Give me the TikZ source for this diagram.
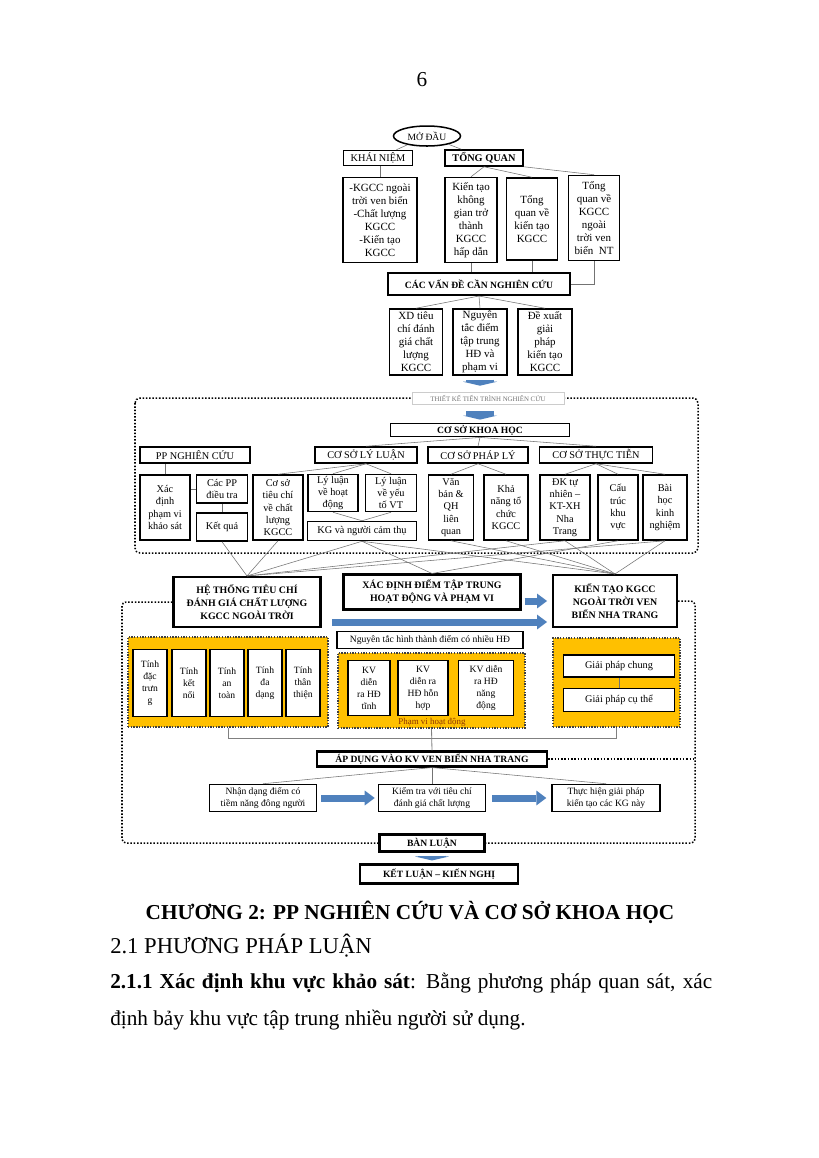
\documentclass[tikz,border=0pt]{standalone}
\usepackage{fontspec}
\setmainfont{Liberation Serif}
\usetikzlibrary{arrows.meta,shapes.geometric}
\newlength{\upx}
\setlength{\upx}{0.025641cm}
\definecolor{arrblue}{RGB}{79,129,189}
\definecolor{gold}{RGB}{255,192,0}
\definecolor{pvred}{RGB}{140,50,0}
\tikzset{
  sz/.style 2 args={minimum width=#1\upx, minimum height=#2\upx},
  box/.style={draw, line width=1.1pt, fill=white, align=center, inner sep=0pt,
    font=\fontsize{8}{9.5}\selectfont},
  sbox/.style={box, font=\fontsize{7.5}{9}\selectfont},
  tbox/.style={box, font=\fontsize{7}{8.8}\selectfont},
  bhdr/.style={box, line width=1.5pt, font=\bfseries\fontsize{7}{9.5}\selectfont},
  grp/.style={fill=gold, draw=black!75, line width=1pt, dash pattern=on 1pt off 1pt, inner sep=0pt},
  ln/.style={draw=black!55, line width=0.4pt},
  frame/.style={draw=black, line width=1.1pt, dash pattern=on 1.1pt off 1.3pt},
  barrow/.style={draw=arrblue, line width=5.1pt, -{Triangle[length=7.3pt, width=10.9pt, line width=0pt]}},
  darrow/.style={draw=arrblue, line width=20.4pt, -{Triangle[length=2.9pt, width=24.8pt, line width=0pt]}},
  body/.style={font=\fontsize{15.5}{18}\selectfont, inner sep=0pt}
}
\begin{document}
\begin{tikzpicture}[x=\upx, y=-\upx]
\useasboundingbox (0,0) rectangle (819,1158);
\fill[white] (0,0) rectangle (819,1158);
\node[body] (trang) at (422,80) {6};

% 开头
\node[draw, ellipse, line width=1.1pt, sz={67}{20}, inner sep=0pt, font=\fontsize{7}{8}\selectfont] (modau) at (427,136) {MỞ ĐẦU};
\node[sbox, sz={69}{15}] (khainiem) at (378,158) {KHÁI NIỆM};
\node[box, sz={78}{16}, font=\bfseries\fontsize{7.5}{9}\selectfont] (tongquan) at (484,158) {TỔNG QUAN};
\node[box, sz={74}{85}] (kn1) at (380,220) {-KGCC ngoài\\trời ven biển\\-Chất lượng\\KGCC\\-Kiến tạo\\KGCC};
\node[box, sz={52}{85}] (tq1) at (471,220) {Kiến tạo\\không\\gian trở\\thành\\KGCC\\hấp dẫn};
\node[box, sz={51}{82}] (tq2) at (532,219) {Tổng\\quan về\\kiến tạo\\KGCC};
\node[box, sz={51}{85}] (tq3) at (594,218) {Tổng\\quan về\\KGCC\\ngoài\\trời ven\\biển~~NT};
\draw[ln] (modau) -- (khainiem);
\draw[ln] (modau) -- (tongquan);
\draw[ln] (kn1.north) -- (kn1.north |- khainiem.south);
\draw[ln] (tongquan.south) -- (tq1.north);
\draw[ln] (tongquan.south) -- (tq2.north);
\draw[ln] (tongquan.south east) -- (tq3.north);

% 研究问题
\node[bhdr, sz={182}{22}] (cvd) at (479,284) {CÁC VẤN ĐỀ CẦN NGHIÊN CỨU};
\draw[ln] (tq1.south) -- (tq1.south |- cvd.north);
\draw[ln] (tq2.south) -- (tq2.south |- cvd.north);
\draw[ln] (tq3.south) |- (cvd.east);
\node[box, sz={53}{66}] (b1) at (416,342) {XD tiêu\\chí đánh\\giá chất\\lượng\\KGCC};
\node[box, sz={54}{66}] (b2) at (480,342) {Nguyên\\tắc điểm\\tập trung\\HĐ và\\phạm vi};
\node[box, sz={54}{66}] (b3) at (545,342) {Đề xuất\\giải\\pháp\\kiến tạo\\KGCC};
\draw[ln] (cvd.south) -- (b1.north);
\draw[ln] (cvd.south) -- (b2.north);
\draw[ln] (cvd.south) -- (b3.north);

% 研究流程
\draw[frame, rounded corners=5\upx] (135,398) rectangle (698,553);
\node[draw=black!20, fill=white, text=black!55, sz={152}{12}, inner sep=0pt, font=\fontsize{5}{6}\selectfont] (tk) at (488,398) {THIẾT KẾ TIẾN TRÌNH NGHIÊN CỨU};
\node[bhdr, sz={179}{13}, line width=1.3pt] (cskh) at (480,430) {CƠ SỞ KHOA HỌC};
\draw[darrow, shorten <=2.9pt, shorten >=4.4pt] (b2.south) -- (b2.south |- tk.north);
\draw[darrow, shorten <=5.1pt, shorten >=2.2pt] (cskh.north |- tk.south) -- (cskh.north);

\node[sbox, sz={110}{16}] (ppnc) at (195,455) {PP NGHIÊN CỨU};
\node[sbox, sz={102}{16}] (csll) at (366,455) {CƠ SỞ LÝ LUẬN};
\node[sbox, sz={100}{16}] (cspl) at (478,455) {CƠ SỞ PHÁP LÝ};
\node[sbox, sz={113}{16}] (cstt) at (596,455) {CƠ SỞ THỰC TIỄN};
\draw[ln] (cskh.south) -- (csll.north);
\draw[ln] (cskh.south) -- (cspl.north);
\draw[ln] (cskh.south) -- (cstt.north);

\node[sbox, sz={50}{65}] (xdpv) at (165,507.5) {Xác\\định\\phạm vi\\khảo sát};
\node[sbox, sz={51}{28}] (cacpp) at (222,489) {Các PP\\điều tra};
\node[sbox, sz={51}{28}] (ketqua) at (222,527) {Kết quả};
\node[sbox, sz={50}{65}] (cstc) at (278,507.5) {Cơ sở\\tiêu chí\\về chất\\lượng\\KGCC};
\node[sbox, sz={50}{37}] (llhd) at (333,493) {Lý luận\\về hoạt\\động};
\node[sbox, sz={51}{37}] (llvt) at (391,493) {Lý luận\\về yếu\\tố VT};
\node[sbox, sz={109}{19}] (kg) at (362,531) {KG và người cảm thụ};
\node[sbox, sz={45}{65}] (vb) at (451,507.5) {Văn\\bản \&\\QH\\liên\\quan};
\node[sbox, sz={44}{65}] (knang) at (506,507.5) {Khả\\năng tổ\\chức\\KGCC};
\node[sbox, sz={50}{65}] (dk) at (565,507.5) {ĐK tự\\nhiên –\\KT-XH\\Nha\\Trang};
\node[sbox, sz={40}{65}] (ctkv) at (618,507.5) {Cấu\\trúc\\khu\\vực};
\node[sbox, sz={44}{65}] (bh) at (665,507.5) {Bài\\học\\kinh\\nghiệm};
\draw[ln] (xdpv.north) -- (xdpv.north |- ppnc.south);
\draw[ln] (cacpp.west) -- (cacpp.west -| xdpv.east);
\draw[ln] (cacpp.south) -- (ketqua.north);
\draw[ln] (csll.south) -- (cstc.north);
\draw[ln] (csll.south) -- (llhd.north);
\draw[ln] (csll.south) -- (llvt.north);
\draw[ln] (llhd.south) -- (kg.north);
\draw[ln] (llvt.south) -- (kg.north);
\draw[ln] (cspl.south) -- (vb.north);
\draw[ln] (cspl.south) -- (knang.north);
\draw[ln] (cstt.south) -- (dk.north);
\draw[ln] (cstt.south) -- (ctkv.north);
\draw[ln] (cstt.south) -- (bh.north);

% 三个主要部分
\node[bhdr, sz={147}{50}, font=\bfseries\fontsize{7.2}{9.5}\selectfont] (hethong) at (247,602) {HỆ THỐNG TIÊU CHÍ\\ĐÁNH GIÁ CHẤT LƯỢNG\\KGCC NGOÀI TRỜI};
\node[bhdr, sz={177}{35}, font=\bfseries\fontsize{7.2}{9.5}\selectfont] (xddtt) at (432,592) {XÁC ĐỊNH ĐIỂM TẬP TRUNG\\HOẠT ĐỘNG VÀ PHẠM VI};
\node[bhdr, sz={124}{52}, font=\bfseries\fontsize{7.2}{9.5}\selectfont] (kientao) at (615,601) {KIẾN TẠO KGCC\\NGOÀI TRỜI VEN\\BIỂN NHA TRANG};
\draw[ln] (ketqua.south) -- (hethong.north);
\draw[ln] (cstc.south) -- (hethong.north);
\draw[ln] (kg.south) -- (hethong.north);
\draw[ln] (dk.south) -- (hethong.north);
\draw[ln] (bh.south) -- (hethong.north);
\draw[ln] (kg.south) -- (xddtt.north);
\draw[ln] (ctkv.south) -- (xddtt.north);
\draw[ln] (kg.south) -- (kientao.north);
\draw[ln] (vb.south) -- (kientao.north);
\draw[ln] (knang.south) -- (kientao.north);
\draw[ln] (dk.south) -- (kientao.north);
\draw[ln] (bh.south) -- (kientao.north);
\draw[barrow, shorten <=2.2pt, shorten >=3.6pt] (xddtt.east |- kientao.west) -- (kientao.west);
\draw[barrow, shorten <=8pt, shorten >=3.6pt] ([yshift=-20\upx]hethong.east) -- ([yshift=-20\upx]hethong.east -| kientao.west);

% 黄色分组
\node[grp, sz={200}{90}] (g1) at (228,682) {};
\node[tbox, sz={34}{67}] (tinh1) at (150,683) {Tính\\đặc\\trưn\\g};
\node[tbox, sz={34}{67}] (tinh2) at (189,683) {Tính\\kết\\nối};
\node[tbox, sz={34}{67}] (tinh3) at (227,683) {Tính\\an\\toàn};
\node[tbox, sz={34}{67}] (tinh4) at (265,683) {Tính\\đa\\dạng};
\node[tbox, sz={34}{67}] (tinh5) at (303,683) {Tính\\thân\\thiện};

\node[tbox, sz={186}{17}] (nguyentac) at (430,640) {Nguyên tắc hình thành điểm có nhiều HĐ};
\node[grp, sz={187}{75}] (g2) at (431.5,690.5) {};
\node[tbox, sz={42}{55}] (kv1) at (369,688) {KV\\diễn\\ra HĐ\\tĩnh};
\node[tbox, sz={50}{55}] (kv2) at (423,688) {KV\\diễn ra\\HĐ hỗn\\hợp};
\node[tbox, sz={55}{55}] (kv3) at (486,688) {KV diễn\\ra HĐ\\năng\\động};
\node[text=pvred, inner sep=0pt, font=\fontsize{6.5}{7}\selectfont] (pvhd) at (432,722) {Phạm vi hoạt động};

\node[grp, sz={127}{89}] (g3) at (616.5,682.5) {};
\node[tbox, sz={111}{22}, font=\fontsize{7.5}{9}\selectfont] (gpc) at (619,666) {Giải pháp chung};
\node[tbox, sz={111}{23}, font=\fontsize{7.5}{9}\selectfont] (gpct) at (619,700) {Giải pháp cụ thể};
\draw[ln] (gpc) -- (gpct);

% 应用
\node[bhdr, sz={230}{15}] (apdung) at (432,759) {ÁP DỤNG VÀO KV VEN BIỂN NHA TRANG};
\draw[draw=black!50, line width=0.6pt] (g1.south) -- ++(0,11) -| (g3.south);
\draw[draw=black!50, line width=0.6pt] (g2.south) -- (apdung.north);
\node[tbox, sz={107}{27}] (nd) at (263,798) {Nhận dạng điểm có\\tiềm năng đông người};
\node[tbox, sz={107}{27}] (kt) at (432,798) {Kiểm tra với tiêu chí\\đánh giá chất lượng};
\node[tbox, sz={108}{27}] (th) at (606,798) {Thực hiện giải pháp\\kiến tạo các KG này};
\draw[ln] (apdung.south) -- (nd.north);
\draw[ln] (apdung.south) -- (kt.north);
\draw[ln] (apdung.south) -- (th.north);
\draw[barrow, shorten <=2.9pt, shorten >=2.2pt] (nd) -- (kt);
\draw[barrow, shorten <=4.4pt, shorten >=3.6pt] (kt) -- (th);

\node[bhdr, sz={105}{17}] (banluan) at (432,843) {BÀN LUẬN};
\node[bhdr, sz={158}{19}] (ketluan) at (439,874) {KẾT LUẬN – KIẾN NGHỊ};
\draw[darrow, shorten <=2.2pt, shorten >=2.2pt] (banluan.south) -- (banluan.south |- ketluan.north);

% 虚线框
\coordinate (fl) at (122,843);
\coordinate (fr) at (695,843);
\draw[frame, rounded corners=4\upx] (hethong.west) -| (fl) -- (banluan.west);
\draw[frame, rounded corners=4\upx] (kientao.east) -| (fr) -- (banluan.east);
\draw[frame] (apdung.east) -- (apdung.east -| fr);

% 正文
\node[body, font=\bfseries\fontsize{15.5}{18}\selectfont] (chuong) at (410,912) {CHƯƠNG 2: PP NGHIÊN CỨU VÀ CƠ SỞ KHOA HỌC};
\node[body, anchor=west, font=\fontsize{16.5}{19}\selectfont] (muc21) at (110,946) {2.1 PHƯƠNG PHÁP LUẬN};
\node[body, anchor=west] (muc211) at (110,983) {\makebox[602\upx][s]{\textbf{2.1.1 Xác định khu vực khảo sát}: Bằng phương pháp quan sát, xác}};
\node[body, anchor=west] (dong2) at (110,1020) {định bảy khu vực tập trung nhiều người sử dụng.};
\end{tikzpicture}
\end{document}
